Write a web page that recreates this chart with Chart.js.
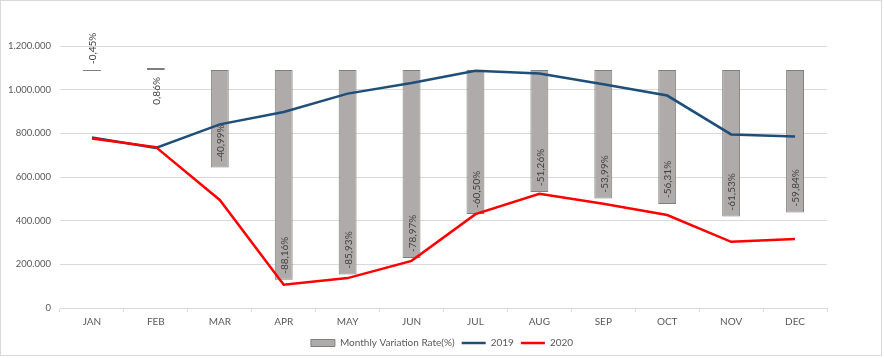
<!DOCTYPE html>
<html>
<head>
<meta charset="utf-8">
<script src="https://cdn.jsdelivr.net/npm/chart.js@4"></script>
<style>
  html, body { margin: 0; padding: 0; background: #ffffff; }
  #wrap { position: relative; width: 884px; height: 358px; }
</style>
</head>
<body>
<div id="wrap"><canvas id="c"></canvas></div>
<script>
const categories = ['JAN','FEB','MAR','APR','MAY','JUN','JUL','AUG','SEP','OCT','NOV','DEC'];
const rate = [-0.45, 0.86, -40.99, -88.16, -85.93, -78.97, -60.50, -51.26, -53.99, -56.31, -61.53, -59.84];
const series2019 = [781000, 733000, 841000, 898000, 982000, 1031000, 1087000, 1074000, 1025000, 973000, 795000, 786000];
const series2020 = [776000, 737000, 495000, 107000, 137000, 216000, 430000, 523000, 477000, 426000, 303000, 316000];
const yTickStep = 200000;
const yMax = 1200000;

const FONT = 'Lato, "Liberation Sans", sans-serif';

function fmtThousands(v) {
  return String(Math.round(v)).replace(/\B(?=(\d{3})+(?!\d))/g, '.');
}
function fmtRate(v) {
  return v.toFixed(2).replace('.', ',') + '%';
}

const framePlugin = {
  id: 'frame',
  beforeDraw(chart) {
    const ctx = chart.ctx;
    ctx.save();
    ctx.fillStyle = '#ffffff';
    ctx.fillRect(0, 0, chart.width, chart.height);
    ctx.strokeStyle = '#d9d9d9';
    ctx.lineWidth = 1;
    ctx.strokeRect(0.5, 0.5, 881, 355);
    ctx.restore();
  }
};

const barLabels = {
  id: 'barLabels',
  afterDatasetsDraw(chart) {
    const meta = chart.getDatasetMeta(0);
    const ctx = chart.ctx;
    ctx.save();
    ctx.font = '10px ' + FONT;
    ctx.fillStyle = '#404040';
    ctx.textBaseline = 'middle';
    meta.data.forEach((bar, i) => {
      const v = rate[i];
      const top = Math.min(bar.y, bar.base);
      const bottom = Math.max(bar.y, bar.base);
      const txt = fmtRate(v);
      ctx.save();
      let anchorY, align;
      if (v > 0) { anchorY = bottom + 7; align = 'right'; }
      else if (v > -5) { anchorY = top - 6; align = 'left'; }
      else { anchorY = bottom - 6; align = 'left'; }
      ctx.translate(bar.x + 1, anchorY);
      ctx.rotate(-Math.PI / 2);
      ctx.textAlign = align;
      ctx.fillText(txt, 0, 0);
      ctx.restore();
    });
    ctx.restore();
  }
};

new Chart(document.getElementById('c'), {
  type: 'bar',
  data: {
    labels: categories,
    datasets: [
      {
        type: 'bar',
        label: 'Monthly Variation Rate(%)',
        data: rate,
        yAxisID: 'y2',
        backgroundColor: '#afabab',
        borderColor: '#7f7f7f',
        borderWidth: 1,
        borderSkipped: false,
        barPercentage: 0.28,
        categoryPercentage: 1.0,
        order: 3
      },
      {
        type: 'line',
        label: '2019',
        data: series2019,
        yAxisID: 'y',
        borderColor: '#1f4e79',
        backgroundColor: '#1f4e79',
        borderWidth: 2.5,
        pointRadius: 0,
        tension: 0,
        fill: false,
        order: 2
      },
      {
        type: 'line',
        label: '2020',
        data: series2020,
        yAxisID: 'y',
        borderColor: '#ff0000',
        backgroundColor: '#ff0000',
        borderWidth: 2.5,
        pointRadius: 0,
        tension: 0,
        fill: false,
        order: 1
      }
    ]
  },
  options: {
    responsive: true,
    maintainAspectRatio: false,
    animation: false,
    layout: { padding: { top: 46, right: 0, left: 0, bottom: 0 } },
    plugins: {
      tooltip: { enabled: false },
      legend: {
        position: 'bottom',
        labels: {
          font: { family: FONT, size: 10 },
          color: '#595959',
          padding: 7,
          boxHeight: 7,
          usePointStyle: true,
          pointStyleWidth: 24,
          generateLabels(chart) {
            return chart.data.datasets.map((ds, i) => ({
              text: ds.label,
              fillStyle: ds.type === 'bar' ? ds.backgroundColor : ds.borderColor,
              strokeStyle: ds.borderColor,
              lineWidth: ds.type === 'bar' ? 1 : 2.5,
              pointStyle: ds.type === 'bar' ? 'rect' : 'line',
              fontColor: '#595959',
              hidden: false,
              datasetIndex: i
            }));
          }
        }
      }
    },
    scales: {
      x: {
        offset: true,
        grid: { display: true, drawOnChartArea: false, drawTicks: true, tickLength: 4, color: '#d9d9d9', offset: true },
        border: { display: true, color: '#d9d9d9' },
        ticks: { color: '#595959', font: { family: FONT, size: 10 }, padding: 4, maxRotation: 0 },
        afterFit(scale) { scale.height = 23; }
      },
      y: {
        position: 'left',
        min: 0,
        max: yMax,
        grid: { color: '#d9d9d9', drawTicks: false },
        border: { display: false },
        ticks: {
          stepSize: yTickStep,
          color: '#595959',
          font: { family: FONT, size: 9.5 },
          padding: 9,
          callback: (v) => fmtThousands(v)
        },
        afterFit(scale) { scale.width = 60; }
      },
      y2: {
        position: 'right',
        display: true,
        min: -100,
        max: 100 * (yMax / 1090000) - 100,
        grid: { display: false, drawTicks: false },
        border: { display: false },
        ticks: { display: false },
        afterFit(scale) { scale.width = 57; }
      }
    }
  },
  plugins: [framePlugin, barLabels]
});
</script>
</body>
</html>
